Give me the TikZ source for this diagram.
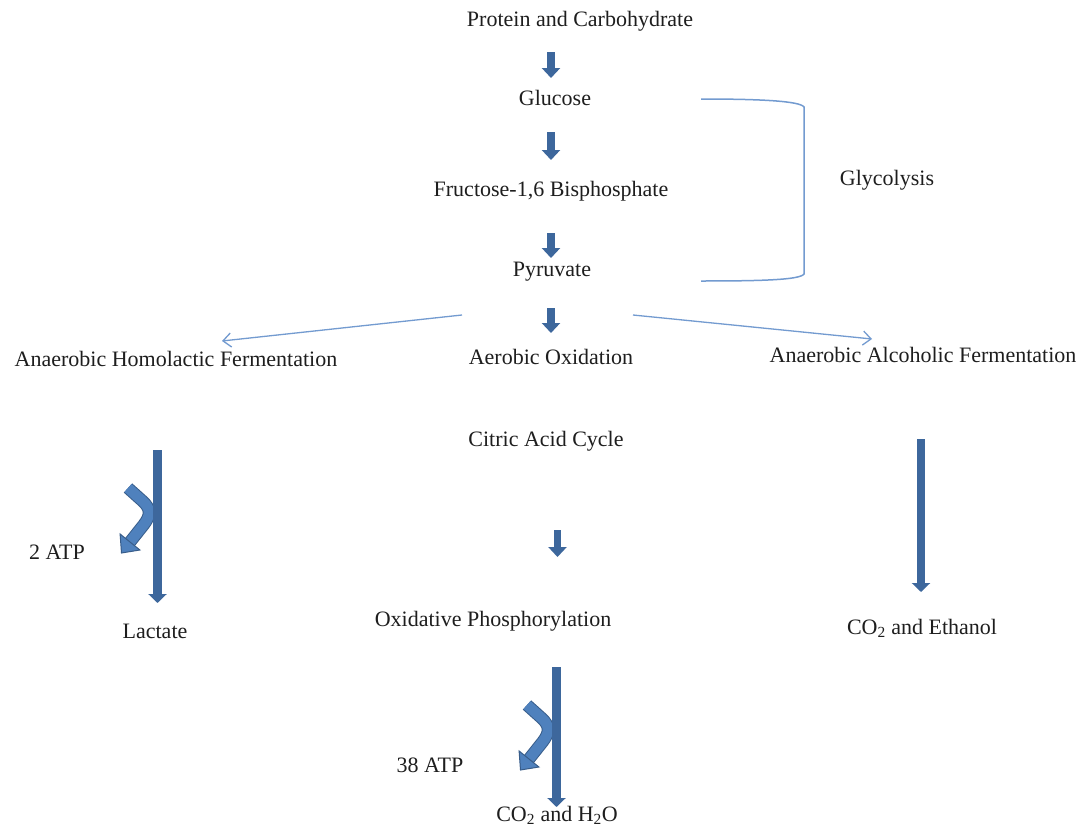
\documentclass[tikz,border=0pt]{standalone}
\usepackage{fontspec}
\setmainfont{Liberation Serif}
\usetikzlibrary{arrows.meta}
\definecolor{fat}{HTML}{3D679C}
\definecolor{thin}{HTML}{739BD0}
\definecolor{atpfill}{HTML}{4F81BD}
\definecolor{atpedge}{HTML}{385D8A}
\definecolor{txt}{HTML}{1E1E1E}
\newcommand{\atpcurve}[1]{%
  \begin{scope}[shift={(#1)}]
    \draw[atpedge, line width=12.5pt, line join=round]
      (-29.5,38) -- (-15,51) .. controls (-6,59) and (-7,66) .. (-14,75) -- (-27.5,92);
    \draw[atpfill, line width=10.5pt, line join=round]
      (-29.5,38) -- (-15,51) .. controls (-6,59) and (-7,66) .. (-14,75) -- (-27.5,92);
    \filldraw[fill=atpfill, draw=atpedge, line width=1pt, line join=miter]
      (-17.6,100) -- (-37.4,84) -- (-36,103) -- cycle;
  \end{scope}}
\begin{document}
\begin{tikzpicture}[x=1pt,y=-1pt,
  lbl/.style={font=\fontsize{22}{26}\selectfont, text=txt, inner sep=0pt, anchor=base},
  fatshort/.style={draw=fat, line width=7.5pt, -{Triangle[width=18pt,length=10pt]}},
  fatlong/.style={draw=fat, line width=8.5pt, -{Triangle[width=18pt,length=9pt]}},
  thinarrow/.style={draw=thin, line width=1.3pt, -{Straight Barb[length=8pt,width=14pt]}},
  bracketline/.style={draw=thin, line width=1.5pt},
]
\useasboundingbox (0,0) rectangle (1085,827);
\fill[white] (0,0) rectangle (1085,827);

% labels
\node[lbl] (protein)  at (580,26)  {Protein and Carbohydrate};
\node[lbl] (glucose)  at (555,105) {Glucose};
\node[lbl] (fructose) at (551,196) {Fructose-1,6 Bisphosphate};
\node[lbl] (pyruvate) at (552,276) {Pyruvate};
\node[lbl] (glyco)    at (887,185) {Glycolysis};
\node[lbl] (homo)     at (176,366) {Anaerobic Homolactic Fermentation};
\node[lbl] (aerobic)  at (551,364) {Aerobic Oxidation};
\node[lbl] (alco)     at (923,362) {Anaerobic Alcoholic Fermentation};
\node[lbl] (citric)   at (546,446) {Citric Acid Cycle};
\node[lbl] (oxphos)   at (493,626) {Oxidative Phosphorylation};
\node[lbl] (atp2)     at (57,559)  {2 ATP};
\node[lbl] (lactate)  at (155,638) {Lactate};
\node[lbl] (ethanol)  at (922,634) {CO\textsubscript{2} and Ethanol};
\node[lbl] (atp38)    at (430,772) {38 ATP};
\node[lbl] (water)    at (557,821) {CO\textsubscript{2} and H\textsubscript{2}O};

% connector end points
\coordinate (s1) at (551,52);  \coordinate (e1) at (551,78);
\coordinate (s2) at (551,132); \coordinate (e2) at (551,160);
\coordinate (s3) at (551,233); \coordinate (e3) at (551,258);
\coordinate (s4) at (551,308); \coordinate (e4) at (551,333);
\coordinate (s5) at (557.5,530); \coordinate (e5) at (557.5,557);
\coordinate (lt) at (157.5,450); \coordinate (lb) at (157.5,603);
\coordinate (rt) at (921,439);   \coordinate (rb) at (921,592);
\coordinate (bt) at (556.5,667); \coordinate (bb) at (556.5,807);
\coordinate (pl) at (462,315); \coordinate (hl) at (222,341);
\coordinate (pr) at (633,315); \coordinate (ar) at (872,339);
\coordinate (gtop) at (701,99); \coordinate (gbot) at (701,281);

% fat arrows of the main chain
\draw[fatshort] (s1) -- (e1);
\draw[fatshort] (s2) -- (e2);
\draw[fatshort] (s3) -- (e3);
\draw[fatshort] (s4) -- (e4);
\draw[fatshort] (s5) -- (e5);

% branches from pyruvate
\draw[thinarrow] (pl) -- (hl);
\draw[thinarrow] (pr) -- (ar);

% glycolysis bracket
\draw[bracketline] (gtop) .. controls (760,99) and (800,101) .. (804,107)
  -- (804,274) .. controls (800,280) and (760,281) .. (gbot);

% ATP side arrows
\atpcurve{lt}
\atpcurve{bt}

% long arrows
\draw[fatlong] (lt) -- (lb);
\draw[fatlong] (rt) -- (rb);
\draw[fatlong] (bt) -- (bb);
\end{tikzpicture}
\end{document}
